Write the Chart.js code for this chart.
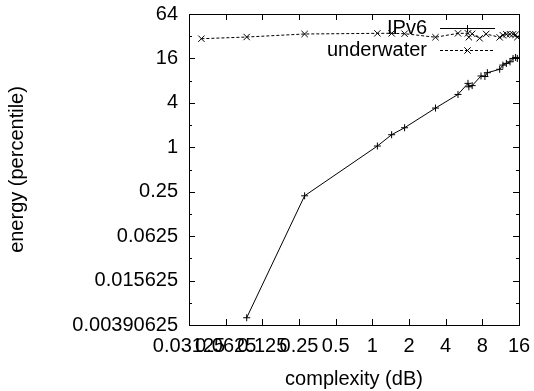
<!DOCTYPE html>
<html>
<head>
<meta charset="utf-8">
<script src="https://cdn.jsdelivr.net/npm/chart.js@4/dist/chart.umd.min.js"></script>
<style>
  html, body { margin: 0; padding: 0; background: #fff; }
  #wrap { width: 534px; height: 391px; }
</style>
</head>
<body>
<div id="wrap"><canvas id="energyChart"></canvas></div>
<script>
const ipv6X = [0.093, 0.278, 1.1, 1.44, 1.84, 3.3, 5.05, 6.1, 6.2, 6.6, 7.8, 8.4, 8.8, 11.1, 11.8, 12.6, 13.5, 14.3, 15.0, 15.5];
const ipv6Y = [0.0049, 0.22, 1.04, 1.48, 1.84, 3.4, 5.2, 7.35, 6.6, 6.85, 9.25, 9.1, 10.25, 11.4, 13.0, 13.7, 14.4, 16.0, 16.5, 16.0];

const underwaterX = [0.0395, 0.093, 0.278, 1.1, 1.44, 1.84, 3.3, 5.05, 6.1, 6.2, 6.6, 7.6, 8.6, 11.1, 11.8, 12.6, 13.5, 14.3, 15.0, 15.5];
const underwaterY = [29.6, 31.2, 34.3, 35, 35, 34.6, 31, 35, 35, 31, 34.5, 30, 34.3, 30.9, 33, 34, 34, 34, 33.5, 31];

const xTicks = [0.03125, 0.0625, 0.125, 0.25, 0.5, 1, 2, 4, 8, 16];
const yTicks = [0.00390625, 0.015625, 0.0625, 0.25, 1, 4, 16, 64];
const yMinorTicks = [0.0078125, 0.03125, 0.125, 0.5, 2, 8, 32];

const FONT = 'Liberation Sans, Arial, Helvetica, sans-serif';

// gnuplot style frame: border plus inward ticks on all four sides
const framePlugin = {
    id: 'frame',
    afterDatasetsDraw(chart) {
        const { ctx, chartArea: a, scales } = chart;
        ctx.save();
        ctx.strokeStyle = '#000';
        ctx.lineWidth = 1;
        ctx.beginPath();
        xTicks.forEach(v => {
            const px = Math.round(scales.x.getPixelForValue(v)) + 0.5;
            ctx.moveTo(px, a.bottom); ctx.lineTo(px, a.bottom - 6);
            ctx.moveTo(px, a.top); ctx.lineTo(px, a.top + 6);
        });
        yTicks.forEach(v => {
            const py = Math.round(scales.y.getPixelForValue(v)) + 0.5;
            ctx.moveTo(a.left, py); ctx.lineTo(a.left + 6, py);
            ctx.moveTo(a.right, py); ctx.lineTo(a.right - 6, py);
        });
        yMinorTicks.forEach(v => {
            const py = Math.round(scales.y.getPixelForValue(v)) + 0.5;
            ctx.moveTo(a.left, py); ctx.lineTo(a.left + 3, py);
            ctx.moveTo(a.right, py); ctx.lineTo(a.right - 3, py);
        });
        ctx.stroke();
        ctx.strokeRect(Math.round(a.left) + 0.5, Math.round(a.top) + 0.5,
            Math.round(a.right - a.left), Math.round(a.bottom - a.top));
        ctx.restore();
    }
};

// key in the top right corner, text right-aligned before a line sample
const keyPlugin = {
    id: 'key',
    afterDraw(chart) {
        const { ctx, chartArea: a } = chart;
        const textRight = a.right - 92;
        const lineStart = a.right - 79;
        const lineEnd = a.right - 24;
        const mid = (lineStart + lineEnd) / 2;
        ctx.save();
        ctx.font = '20px ' + FONT;
        ctx.textAlign = 'right';
        ctx.textBaseline = 'middle';
        ctx.fillStyle = '#000';
        chart.data.datasets.forEach((ds, i) => {
            const y = a.top + 14.5 + i * 22;
            ctx.fillText(ds.label, textRight, y);
            ctx.strokeStyle = '#000';
            ctx.lineWidth = 1;
            ctx.setLineDash(ds.borderDash || []);
            ctx.beginPath();
            ctx.moveTo(lineStart, y); ctx.lineTo(lineEnd, y);
            ctx.stroke();
            ctx.setLineDash([]);
            Chart.helpers.drawPoint(ctx, {
                pointStyle: ds.pointStyle, radius: ds.pointRadius, borderWidth: 1
            }, mid, y);
        });
        ctx.restore();
    }
};

function toPoints(xs, ys) {
    return xs.map((x, i) => ({ x: x, y: ys[i] }));
}

const ctx = document.getElementById('energyChart').getContext('2d');
new Chart(ctx, {
    type: 'scatter',
    data: {
        datasets: [{
            label: 'IPv6',
            data: toPoints(ipv6X, ipv6Y),
            showLine: true,
            borderColor: '#000',
            backgroundColor: '#000',
            borderWidth: 1,
            pointStyle: 'cross',
            pointRadius: 3.5,
            pointBorderWidth: 1,
            pointBorderColor: '#000'
        }, {
            label: 'underwater',
            data: toPoints(underwaterX, underwaterY),
            showLine: true,
            borderColor: '#000',
            backgroundColor: '#000',
            borderWidth: 1,
            borderDash: [3, 2],
            pointStyle: 'crossRot',
            pointRadius: 4.5,
            pointBorderWidth: 1,
            pointBorderColor: '#000'
        }]
    },
    options: {
        responsive: true,
        maintainAspectRatio: false,
        animation: false,
        layout: { padding: { left: 0, right: 15, top: 14, bottom: 0 } },
        plugins: {
            legend: { display: false },
            tooltip: { enabled: false }
        },
        scales: {
            x: {
                type: 'logarithmic',
                min: 0.03125,
                max: 16,
                afterBuildTicks: scale => { scale.ticks = xTicks.map(v => ({ value: v })); },
                afterFit: scale => {
                    scale.height = 66;
                    scale.paddingLeft = 0;
                    scale.paddingRight = 0;
                },
                grid: { display: false, drawTicks: false },
                border: { display: false },
                ticks: {
                    autoSkip: false,
                    maxRotation: 0,
                    minRotation: 0,
                    padding: 9,
                    color: '#000',
                    font: { family: FONT, size: 20 },
                    callback: v => String(v)
                },
                title: {
                    display: true,
                    text: 'complexity (dB)',
                    color: '#000',
                    font: { family: FONT, size: 20 },
                    padding: { top: 0, bottom: 0 }
                }
            },
            y: {
                type: 'logarithmic',
                min: 0.00390625,
                max: 64,
                afterBuildTicks: scale => { scale.ticks = yTicks.map(v => ({ value: v })); },
                afterFit: scale => {
                    scale.width = 189;
                    scale.paddingTop = 0;
                    scale.paddingBottom = 0;
                },
                grid: { display: false, drawTicks: false },
                border: { display: false },
                ticks: {
                    autoSkip: false,
                    padding: 11,
                    color: '#000',
                    font: { family: FONT, size: 20 },
                    callback: v => String(v)
                },
                title: {
                    display: true,
                    text: 'energy (percentile)',
                    color: '#000',
                    font: { family: FONT, size: 20 },
                    padding: { top: 5, bottom: 0 }
                }
            }
        }
    },
    plugins: [framePlugin, keyPlugin]
});
</script>
</body>
</html>
